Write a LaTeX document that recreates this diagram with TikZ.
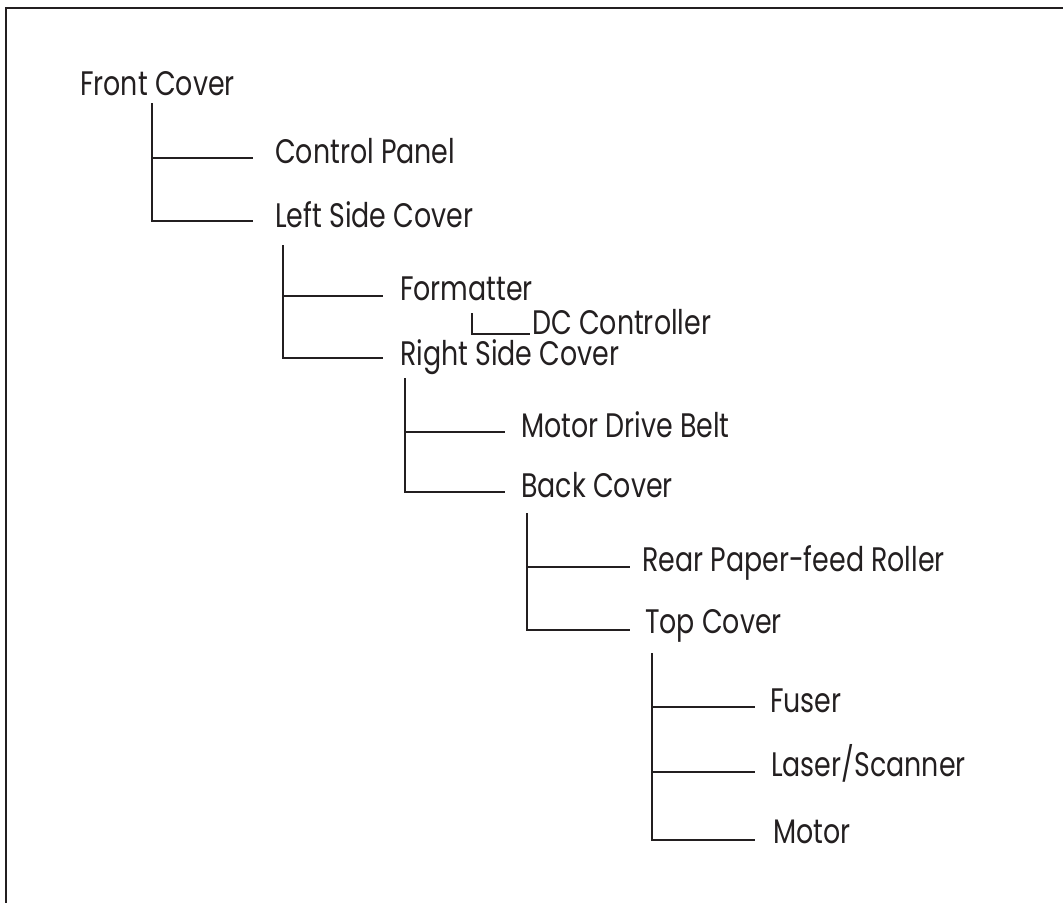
\documentclass[tikz,border=0pt]{standalone}
\usepackage{fontspec}
\setmainfont{Poppins}[FakeStretch=0.79]
\usepackage{xcolor}
\usepackage{tikz}
\usetikzlibrary{calc}

\definecolor{ink}{HTML}{231F20}

\tikzset{
    part/.style={anchor=base west, inner sep=0pt, text=ink, font=\fontsize{34}{40}\selectfont},
    branch/.style={draw=ink, line width=1.6pt},
    frameline/.style={draw=ink, line width=2.6pt}
}

\begin{document}
\begin{tikzpicture}[x=1pt, y=-1pt]
    \useasboundingbox (0,0) rectangle (1063,903);
    % Frame (top and left edges only)
    \draw[frameline] (1063,8) -- (6,8) -- (6,903);
    % Parts, in removal order
    \node[part] (fcover) at (80,95) {Front Cover};
    \node[part] (cpanel) at (275,163) {Control Panel};
    \node[part] (lscover) at (275,227) {Left Side Cover};
    \node[part] (fmtr) at (400,300) {Formatter};
    \node[part] (dcctrl) at (532,334) {DC Controller};
    \node[part] (rscover) at (400,365) {Right Side Cover};
    \node[part] (mdbelt) at (521,437) {Motor Drive Belt};
    \node[part] (bcover) at (521,497) {Back Cover};
    \node[part] (rpfroller) at (642,571) {Rear Paper-feed Roller};
    \node[part] (tcover) at (645,633) {Top Cover};
    \node[part] (fuser) at (770,712) {Fuser};
    \node[part] (laser) at (771,776) {Laser/Scanner};
    \node[part] (motor) at (773,843) {Motor};
    % Trunk tops, just under each parent
    \coordinate (t1) at ($(fcover.base west)+(72,8)$);
    \coordinate (t2) at ($(lscover.base west)+(8,18)$);
    \coordinate (t3) at ($(fmtr.base west)+(72,13)$);
    \coordinate (t4) at ($(rscover.base west)+(5,13)$);
    \coordinate (t5) at ($(bcover.base west)+(6,16)$);
    \coordinate (t6) at ($(tcover.base west)+(7,20)$);
    % Branches
    \draw[branch] (t1) |- ($(cpanel.base west)+(-22,-5)$);
    \draw[branch] (t1) |- ($(lscover.base west)+(-22,-6)$);
    \draw[branch] (t2) |- ($(fmtr.base west)+(-17,-4)$);
    \draw[branch] (t2) |- ($(rscover.base west)+(-17,-7)$);
    \draw[branch] (t3) |- ($(dcctrl.base west)+(-2,0)$);
    \draw[branch] (t4) |- ($(mdbelt.base west)+(-16,-5)$);
    \draw[branch] (t4) |- ($(bcover.base west)+(-16,-5)$);
    \draw[branch] (t5) |- ($(rpfroller.base west)+(-12,-4)$);
    \draw[branch] (t5) |- ($(tcover.base west)+(-15,-3)$);
    \draw[branch] (t6) |- ($(fuser.base west)+(-15,-5)$);
    \draw[branch] (t6) |- ($(laser.base west)+(-16,-4)$);
    \draw[branch] (t6) |- ($(motor.base west)+(-18,-3)$);
\end{tikzpicture}
\end{document}
